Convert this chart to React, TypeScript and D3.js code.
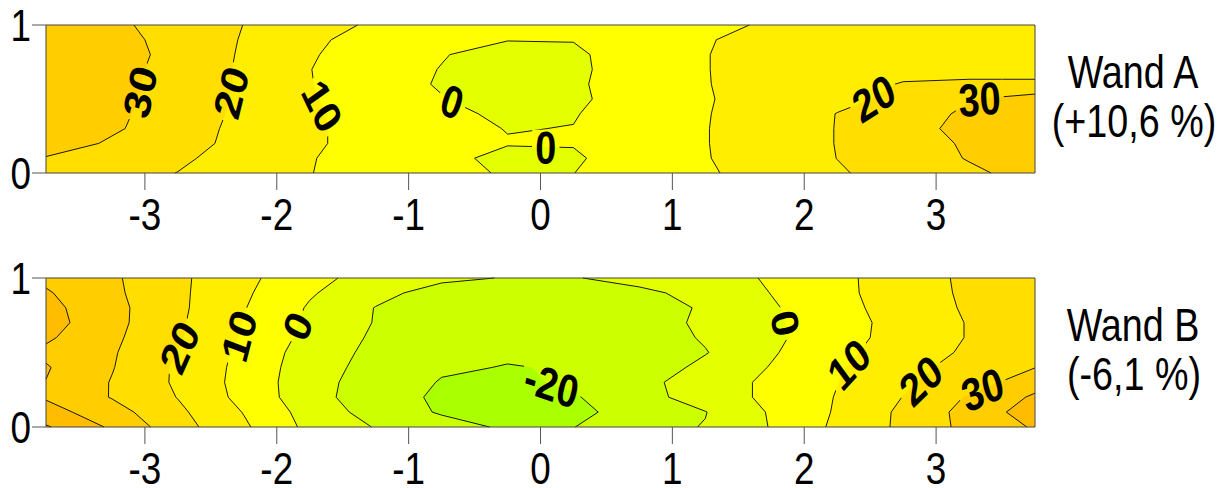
import React from "react";
import * as d3 from "d3";

// ---------- data ----------
const xCols = [-3.75, -3.25, -2.75, -2.25, -1.75, -1.25, -0.75, -0.25, 0.25, 0.75, 1.25, 1.75, 2.25, 2.75, 3.25, 3.75];
const yRows = [1, 0.9, 0.8, 0.7, 0.6, 0.5, 0.4, 0.3, 0.2, 0.1, 0];
const levels = [-20, -10, 0, 10, 20, 30, 40, 50];
const bandColors = ["#aaff00", "#ccff00", "#e4ff00", "#ffff00", "#ffee00", "#ffde00", "#ffcd00", "#ffbc00", "#ffab00"];
const xTicks = [-3, -2, -1, 0, 1, 2, 3];
const yTicks = [0, 1];

// Wand A: rows from y=1 (top) to y=0 (bottom), columns = xCols
const wandA = [
  [37, 32, 26, 19.9, 14, 8.5, 5, 3.2, 3.3, 5, 7, 11.5, 13.5, 14.5, 15, 15],
  [38, 33, 27, 19.3, 11.2, 7.5, 3.5, 0.3, 0.3, 4, 9.5, 12.5, 14, 15, 15, 15],
  [39, 33.5, 27.5, 18.8, 10.8, 5.5, 0.5, -3.5, -1.5, 4.5, 9.8, 12.5, 14.5, 15.5, 15.5, 15.5],
  [39, 33, 27, 18.5, 10.2, 4, -0.3, -4.5, -1.8, 4.5, 9.8, 12.5, 15, 17.5, 17, 16],
  [39, 32, 27.5, 18.5, 10.4, 4, -0.8, -5, -1.5, 5, 9.7, 13, 16.5, 20.5, 21.5, 22],
  [38, 32, 27, 18, 11, 4, 0.4, -4, -1.8, 4.5, 9.4, 13.5, 17.8, 22, 29.5, 34],
  [37, 31.5, 26.5, 17.5, 11.5, 5.5, 2.5, -2, -0.5, 4.5, 9.6, 14, 20.2, 26, 31.5, 37],
  [36, 31, 26, 16.5, 11.5, 6, 3, -0.3, 0.2, 5, 9.7, 14.5, 20.3, 27.5, 32, 38],
  [34, 29, 24.5, 16.5, 11.5, 6, 3, 0.5, 0.6, 5, 9.7, 14.5, 20.3, 26.5, 31, 37],
  [29.5, 26.5, 22, 15, 10.6, 5, 2.5, -2.5, -1.5, 6, 9.6, 14, 20.1, 25.5, 30.5, 36],
  [28, 24.5, 19.8, 14, 10.3, 5, 3, -1, -0.1, 5, 9, 13.5, 19, 24, 28.5, 33],
];

// Wand B
const wandB = [
  [38, 31.5, 22, 12.5, 3, -4, -8, -10.5, -10.5, -7, -4, 1, 6.5, 17.5, 21, 27],
  [41, 32, 22, 11.5, 1, -7, -14, -15, -15, -12, -7, 0.2, 6.5, 17, 21, 27],
  [43, 33, 22, 10.5, -1, -10.3, -15, -17, -17, -14, -9, -1, 6, 15.5, 21, 28],
  [44, 33, 21.5, 9.7, -2, -10.5, -16, -18, -18, -15, -8, -1.5, 5.5, 14, 20.5, 28],
  [41.5, 32, 21, 9, -3, -11.5, -16.5, -18.5, -18.5, -15.5, -9, -2, 6, 14, 20.5, 28],
  [38, 31, 19.8, 7.5, -4.5, -12.5, -17, -19, -19, -16, -10.5, -1, 7.5, 15, 21.5, 28.5],
  [40.8, 30.5, 18.5, 7, -5.5, -13.5, -19, -20.3, -19.5, -16, -7.5, 0.5, 9, 17, 23.5, 29.8],
  [39.8, 29.5, 18.5, 6.5, -6, -15, -20.5, -22, -18.5, -13, -5, 2, 9.8, 18.5, 25, 36],
  [39, 29.5, 19.7, 7, -6, -16, -21.5, -24, -20.8, -14, -5, 2, 10.5, 20.2, 31, 41.5],
  [44, 34, 22, 9.6, -4, -14, -21, -25, -23, -15, -10.3, 1, 11, 22, 33.5, 45],
  [51, 38.5, 24, 11.5, -2.6, -10.5, -16, -21.5, -20.2, -13, -9.6, 0.5, 12, 22, 33, 41],
];

// contour label anchors (level, approx. data position)
const labelsA = [
  { level: 30, x: -3.08, y: 0.56 },
  { level: 20, x: -2.39, y: 0.56 },
  { level: 10, x: -1.66, y: 0.45 },
  { level: 0, x: -0.67, y: 0.48 },
  { level: 0, x: 0.04, y: 0.19 },
  { level: 20, x: 2.52, y: 0.52 },
  { level: 30, x: 3.33, y: 0.49 },
];
const labelsB = [
  { level: 20, x: -2.76, y: 0.55 },
  { level: 10, x: -2.31, y: 0.62 },
  { level: 0, x: -1.85, y: 0.68 },
  { level: -20, x: 0.08, y: 0.27 },
  { level: 0, x: 1.87, y: 0.7 },
  { level: 10, x: 2.34, y: 0.42 },
  { level: 20, x: 2.88, y: 0.32 },
  { level: 30, x: 3.35, y: 0.26 },
];

const titles = ["Wand A", "Wand B"];
const changes = ["(+10,6 %)", "(-6,1 %)"];

// ---------- layout ----------
const W = 1229;
const H = 488;
const K = 0.82; // horizontal squeeze of the whole picture
const FONT = "'Liberation Sans', Arial, Helvetica, sans-serif";
const PLOT_L = 46;
const PLOT_R = 1035;

type Pt = [number, number];

function Panel(props: {
  id: string;
  values: number[][];
  labels: { level: number; x: number; y: number }[];
  top: number;
  bottom: number;
  title: string;
  change: string;
}) {
  const { id, values, labels, top, bottom, title, change } = props;
  const x = d3.scaleLinear().domain([xCols[0], xCols[xCols.length - 1]]).range([PLOT_L / K, PLOT_R / K]);
  const y = d3.scaleLinear().domain([0, 1]).range([bottom, top]);
  const gx = d3.scaleLinear().domain(xCols.map((_, i) => i + 0.5)).range(xCols).clamp(true);
  const gy = d3.scaleLinear().domain(yRows.map((_, i) => i + 0.5)).range(yRows).clamp(true);

  const contours = d3.contours().size([xCols.length, yRows.length]).thresholds(levels)(values.flat());
  const path = d3.geoPath(
    d3.geoTransform({
      point: function (px: number, py: number) {
        (this as any).stream.point(x(gx(px)), y(gy(py)));
      },
    })
  );

  const xmin = xCols[0];
  const xmax = xCols[xCols.length - 1];
  const near = (a: number, b: number) => Math.abs(a - b) < 1e-9;
  const lineSets = contours.map((c) => {
    const polylines: Pt[][] = [];
    c.coordinates.forEach((poly) =>
      poly.forEach((ring) => {
        const pts: Pt[] = ring.map(([a, b]) => [gx(a), gy(b)] as Pt);
        let cur: Pt[] | null = null;
        for (let i = 0; i < pts.length - 1; i++) {
          const p = pts[i];
          const q = pts[i + 1];
          const onB =
            (near(p[0], xmin) && near(q[0], xmin)) ||
            (near(p[0], xmax) && near(q[0], xmax)) ||
            (near(p[1], 0) && near(q[1], 0)) ||
            (near(p[1], 1) && near(q[1], 1));
          if (onB) {
            if (cur) polylines.push(cur);
            cur = null;
            continue;
          }
          if (!cur) cur = [p];
          cur.push(q);
        }
        if (cur) polylines.push(cur);
      })
    );
    return { value: c.value, polylines };
  });

  const line = d3
    .line<Pt>()
    .x((d) => x(d[0]))
    .y((d) => y(d[1]));

  const LFS = 46;
  const placed = labels.map((l) => {
    const ax = x(l.x);
    const ay = y(l.y);
    const set = lineSets.find((s) => s.value === l.level);
    let best = { d: Infinity, px: ax, py: ay, ang: 0 };
    if (set) {
      set.polylines.forEach((pl) => {
        for (let i = 0; i < pl.length - 1; i++) {
          const p = [x(pl[i][0]), y(pl[i][1])];
          const q = [x(pl[i + 1][0]), y(pl[i + 1][1])];
          const dx = q[0] - p[0];
          const dy = q[1] - p[1];
          const len2 = dx * dx + dy * dy;
          if (len2 < 1e-6) continue;
          let t = ((ax - p[0]) * dx + (ay - p[1]) * dy) / len2;
          t = Math.max(0, Math.min(1, t));
          const cx = p[0] + t * dx;
          const cy = p[1] + t * dy;
          const d = (cx - ax) ** 2 + (cy - ay) ** 2;
          if (d < best.d) {
            let ang = (Math.atan2(dy, dx) * 180) / Math.PI;
            if (ang > 90) ang -= 180;
            if (ang <= -90) ang += 180;
            best = { d, px: cx, py: cy, ang };
          }
        }
      });
    }
    const text = String(l.level);
    const tw = [...text].reduce((s, ch) => s + (ch === "-" ? 0.333 : 0.556), 0) * LFS;
    return { ...best, text, tw };
  });

  const maskId = `lblmask-${id}`;
  const pw = x(xmax) - x(xmin);

  return (
    <g>
      <defs>
        <mask id={maskId} maskUnits="userSpaceOnUse" x={0} y={0} width={W / K} height={H}>
          <rect x={0} y={0} width={W / K} height={H} fill="#fff" />
          {placed.map((p, i) => (
            <rect
              key={i}
              x={-p.tw / 2 - 4}
              y={-17}
              width={p.tw + 8}
              height={34}
              fill="#000"
              transform={`translate(${p.px},${p.py}) rotate(${p.ang})`}
            />
          ))}
        </mask>
      </defs>
      <rect x={x(xmin)} y={top} width={pw} height={bottom - top} fill={bandColors[0]} />
      {contours.map((c, i) => (
        <path key={i} d={path(c as any) || ""} fill={bandColors[i + 1]} stroke="none" />
      ))}
      <g mask={`url(#${maskId})`}>
        {lineSets.map((s, i) =>
          s.polylines.map((pl, j) => (
            <path
              key={`${i}-${j}`}
              d={line(pl) || ""}
              fill="none"
              stroke="#000"
              strokeWidth={0.9}
              vectorEffect="non-scaling-stroke"
            />
          ))
        )}
      </g>
      {placed.map((p, i) => (
        <text
          key={i}
          transform={`translate(${p.px},${p.py}) rotate(${p.ang})`}
          textAnchor="middle"
          dy="0.36em"
          fontSize={LFS}
          fontWeight="bold"
          fontFamily={FONT}
          fill="#000"
        >
          {p.text}
        </text>
      ))}
      <rect
        x={x(xmin)}
        y={top}
        width={pw}
        height={bottom - top}
        fill="none"
        stroke="#444"
        strokeWidth={1}
        vectorEffect="non-scaling-stroke"
      />
      {xTicks.map((t) => (
        <g key={t}>
          <line
            x1={x(t)}
            x2={x(t)}
            y1={bottom}
            y2={bottom + 17}
            stroke="#555"
            strokeWidth={1}
            vectorEffect="non-scaling-stroke"
          />
          <text x={x(t)} y={bottom + 57} textAnchor="middle" fontSize={45} fontFamily={FONT} fill="#000">
            {String(t)}
          </text>
        </g>
      ))}
      {yTicks.map((t) => (
        <g key={t}>
          <line
            x1={32 / K}
            x2={PLOT_L / K}
            y1={y(t)}
            y2={y(t)}
            stroke="#555"
            strokeWidth={1}
            vectorEffect="non-scaling-stroke"
          />
          <text x={31 / K} y={y(t) + 16} textAnchor="end" fontSize={45} fontFamily={FONT} fill="#000">
            {String(t)}
          </text>
        </g>
      ))}
      <text x={1133 / K} y={top + 63} textAnchor="middle" fontSize={46} fontFamily={FONT} fill="#000">
        {title}
      </text>
      <text x={1134 / K} y={top + 112} textAnchor="middle" fontSize={46} fontFamily={FONT} fill="#000">
        {change}
      </text>
    </g>
  );
}

export default function App() {
  return (
    <svg
      width={W}
      height={H}
      viewBox={`0 0 ${W} ${H}`}
      style={{ position: "absolute", left: 0, top: 0, background: "#fff", display: "block" }}
    >
      <rect x={0} y={0} width={W} height={H} fill="#fff" />
      <g transform={`scale(${K},1)`}>
        <Panel id="A" values={wandA} labels={labelsA} top={25} bottom={173} title={titles[0]} change={changes[0]} />
        <Panel id="B" values={wandB} labels={labelsB} top={278} bottom={427} title={titles[1]} change={changes[1]} />
      </g>
    </svg>
  );
}
